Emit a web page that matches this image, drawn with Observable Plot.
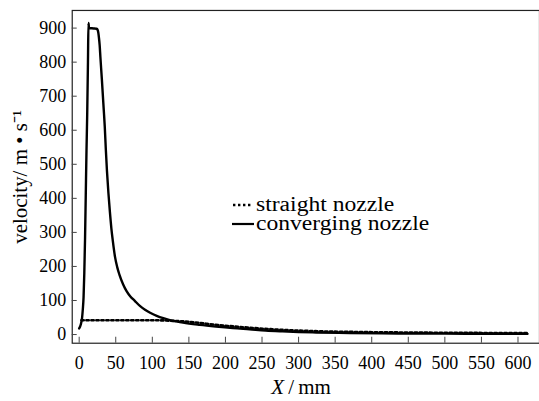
<!DOCTYPE html>
<html>
<head>
<meta charset="utf-8">
<script src="https://cdn.jsdelivr.net/npm/d3@7"></script>
<script src="https://cdn.jsdelivr.net/npm/@observablehq/plot@0.6"></script>
<style>
  html, body { margin: 0; padding: 0; background: #fff; overflow: hidden; }
  #wrap { position: relative; width: 539px; height: 401px; overflow: hidden; font-family: "Liberation Serif", serif; color: #000; }
  #legend { position: absolute; left: 232px; top: 195px; font-size: 20px; line-height: 19px; }
  #legend .row { display: flex; align-items: center; white-space: nowrap; height: 19px; }
  #legend svg { margin-right: 2px; flex: none; }
  #legend span { display: inline-block; transform: scaleX(1.18); transform-origin: left center; }
  #xtitle { position: absolute; left: 0; width: 602px; text-align: center; top: 375px; font-size: 21px; line-height: 24px; }
</style>
</head>
<body>
<div id="wrap"></div>
<script>
// converging nozzle (mm, m/s)
const convX = [0, 2, 4, 5, 6, 7, 8, 9, 10, 11, 12, 12.7, 13.5, 20, 24, 25.5, 27, 28, 29, 31, 33.6, 35, 36.4, 38, 40, 42, 44, 46, 49, 52, 55, 60, 65, 70, 76, 83, 90, 97, 106, 115, 124, 133, 142, 165, 187, 210, 233, 255, 278, 300, 324, 370, 436, 500, 560, 613];
const convV = [18, 28, 50, 75, 110, 180, 280, 410, 540, 650, 800, 915, 900, 899, 898, 893, 872, 850, 815, 750, 660, 610, 545, 480, 415, 360, 312, 275, 228, 198, 176, 148, 127, 112, 99, 84, 73, 64, 55, 48, 42.5, 38.5, 35, 28.5, 23.5, 19, 15.5, 12, 9.5, 7.5, 6, 4.5, 3.2, 2.6, 2.2, 2];
// straight nozzle
const straightX = [3, 20, 60, 100, 115, 130, 150, 175, 200, 230, 260, 290, 330, 380, 450, 520, 613];
const straightV = [42, 42, 42, 42, 41.5, 40, 37.5, 31.5, 26, 20.5, 16, 12.5, 9.5, 7.5, 6, 5, 4.5];
const xTicks = [0, 50, 100, 150, 200, 250, 300, 350, 400, 450, 500, 550, 600];
const yTicks = [0, 100, 200, 300, 400, 500, 600, 700, 800, 900];
const yTitle = "velocity/ m \u2022 s\u207B\u00B9";

const conv = convX.map((x, i) => ({x, v: convV[i]}));
const straight = straightX.map((x, i) => ({x, v: straightV[i]}));

const chart = Plot.plot({
  width: 541,
  height: 401,
  marginLeft: 72,
  marginRight: 0,
  marginTop: 10,
  marginBottom: 57,
  style: {fontFamily: "Liberation Serif, serif", fontSize: "18px", background: "#fff", color: "#000"},
  x: {domain: [-9.5, 629.4]},
  y: {domain: [-25.5, 951.8]},
  marks: [
    Plot.frame({stroke: "#222", strokeWidth: 1.2}),
    Plot.axisX({ticks: xTicks, tickSize: -6, tickPadding: 19, tickFormat: d => String(d), label: null, stroke: "#444", fontSize: 18}),
    Plot.axisY({ticks: yTicks, tickSize: -5, tickPadding: 11, tickFormat: d => String(d), label: null, stroke: "#444", fontSize: 18}),
    Plot.line(straight, {x: "x", y: "v", stroke: "#000", strokeWidth: 2.6, strokeDasharray: "2.4,2.6", curve: "monotone-x"}),
    Plot.line(conv, {x: "x", y: "v", stroke: "#000", strokeWidth: 2.4, curve: "monotone-x"}),
    Plot.text([yTitle], {frameAnchor: "left", textAnchor: "middle", dx: -52, dy: 0, rotate: -90, fontSize: 21, text: d => d})
  ]
});

const wrap = document.getElementById("wrap");
wrap.appendChild(chart);

const legend = document.createElement("div");
legend.id = "legend";
legend.innerHTML =
  '<div class="row"><svg width="22" height="8"><line x1="1" y1="4" x2="21" y2="4" stroke="#000" stroke-width="2.4" stroke-dasharray="2.4,2.6"/></svg><span>straight nozzle</span></div>' +
  '<div class="row"><svg width="22" height="8"><line x1="0" y1="4" x2="22" y2="4" stroke="#000" stroke-width="2.2"/></svg><span>converging nozzle</span></div>';
wrap.appendChild(legend);

const xt = document.createElement("div");
xt.id = "xtitle";
xt.innerHTML = '<i>X</i>\u2009/\u2009mm';
wrap.appendChild(xt);
</script>
</body>
</html>
